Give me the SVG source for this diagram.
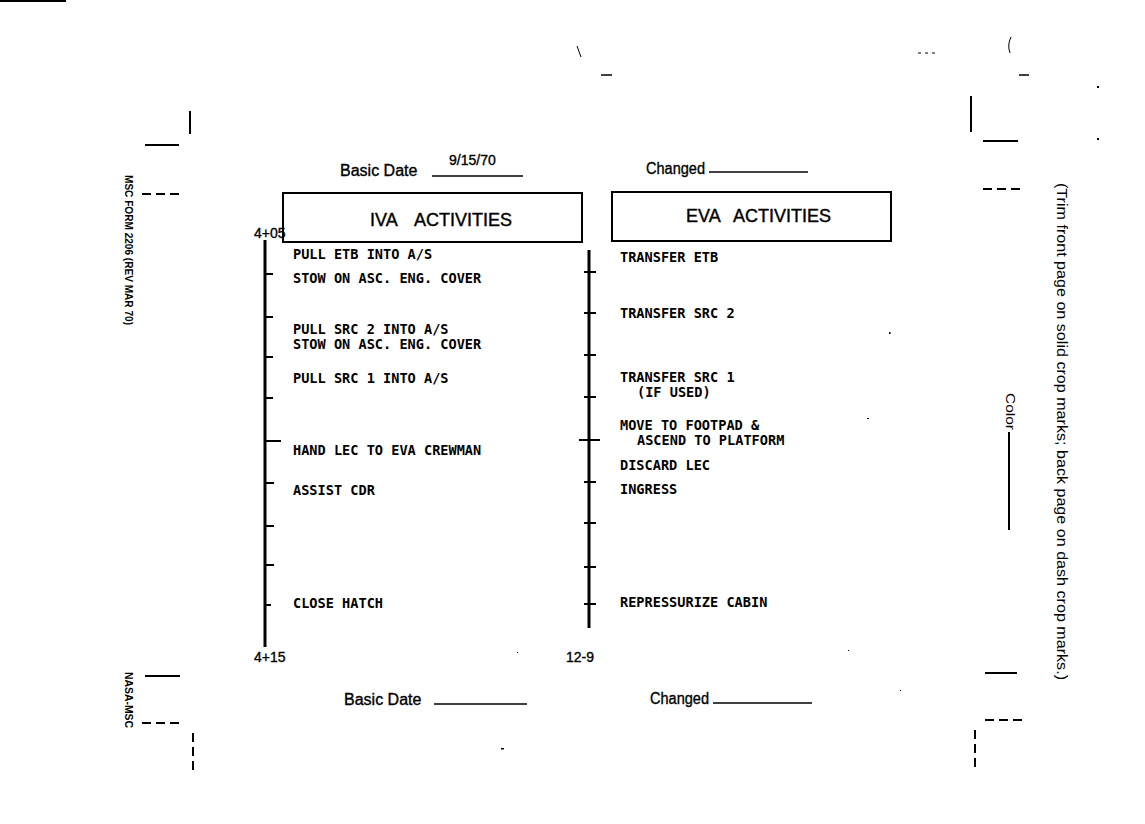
<svg xmlns="http://www.w3.org/2000/svg" width="1145" height="824" viewBox="0 0 1145 824">
<style>
.k{stroke:#000;fill:none}
.cm{stroke:#000;stroke-width:2;fill:none}
.dash{stroke:#000;stroke-width:2;stroke-dasharray:9 5;fill:none}
.box{fill:none;stroke:#000;stroke-width:2}
.tl{stroke:#000;stroke-width:3}
.tk{stroke:#000;stroke-width:2}
.act{font-family:"DejaVu Sans Mono","Liberation Mono",monospace;font-size:13.6px;font-weight:bold;fill:#000}
.hdr{font-family:"Liberation Sans",Arial,sans-serif;font-size:16px;fill:#000;stroke:#000;stroke-width:0.35}
.title{font-family:"Liberation Sans",Arial,sans-serif;font-size:18px;fill:#000;stroke:#000;stroke-width:0.4}
.tm{font-family:"Liberation Sans",Arial,sans-serif;font-size:14px;fill:#000;stroke:#000;stroke-width:0.35}
.side{font-family:"Liberation Sans",Arial,sans-serif;font-weight:bold;fill:#000}
.note{font-family:"Liberation Sans",Arial,sans-serif;fill:#000}
.dot{fill:#000}
</style>
<rect x="0" y="0" width="66" height="2" fill="#000"/>

<g id="crop-marks">
  <line class="cm" x1="190" y1="111" x2="190" y2="134" stroke-width="2.5"/>
  <line class="cm" x1="145" y1="145" x2="179" y2="145"/>
  <line class="dash" x1="142" y1="194" x2="180" y2="194"/>
  <line class="cm" x1="145" y1="676" x2="180" y2="676"/>
  <line class="dash" x1="142" y1="723" x2="180" y2="723"/>
  <line class="dash" x1="193" y1="733" x2="193" y2="772"/>
  <line class="cm" x1="971" y1="96" x2="971" y2="132" stroke-width="3"/>
  <line class="cm" x1="983" y1="141" x2="1018" y2="141"/>
  <line class="dash" x1="983" y1="189" x2="1020" y2="189"/>
  <line class="cm" x1="985" y1="673" x2="1017" y2="673"/>
  <line class="dash" x1="985" y1="720" x2="1025" y2="720"/>
  <line class="dash" x1="975" y1="730" x2="975" y2="772"/>
</g>

<g id="specks">
  <line class="k" x1="577" y1="46" x2="581" y2="57" stroke-width="1"/>
  <line class="k" x1="601" y1="75" x2="612" y2="75" stroke-width="1.5"/>
  <line class="k" x1="918" y1="53" x2="938" y2="53" stroke-width="1" stroke-dasharray="3 4"/>
  <path class="k" d="M1011,37 Q1007,45 1010,53" stroke-width="1"/>
  <line class="k" x1="1019" y1="75" x2="1029" y2="75" stroke-width="1.5"/>
  <rect class="dot" x="1097" y="86" width="2" height="2"/>
  <rect class="dot" x="1097" y="138" width="2" height="2"/>
  <rect class="dot" x="889" y="332" width="1.5" height="2"/>
  <rect class="dot" x="867" y="418" width="2" height="1"/>
  <rect class="dot" x="517" y="652" width="1" height="1"/>
  <rect class="dot" x="848" y="650" width="1" height="1"/>
  <rect class="dot" x="501" y="748" width="3" height="1.5"/>
  <rect class="dot" x="900" y="690" width="1" height="1"/>
</g>

<g id="side-notes">
  <text class="side" font-size="11" transform="translate(125,175) rotate(90)" textLength="150" lengthAdjust="spacingAndGlyphs">MSC FORM 2206 (REV MAR 70)</text>
  <text class="side" font-size="10" transform="translate(125,672) rotate(90)" textLength="56" lengthAdjust="spacingAndGlyphs">NASA-MSC</text>
  <text class="note" font-size="14" transform="translate(1057,183) rotate(90)" textLength="497" lengthAdjust="spacingAndGlyphs">(Trim front page on solid crop marks; back page on dash crop marks.)</text>
  <text class="note" font-size="13" transform="translate(1006,393) rotate(90)" textLength="37" lengthAdjust="spacingAndGlyphs">Color</text>
  <line class="cm" x1="1009" y1="432" x2="1009" y2="530"/>
</g>

<g id="header">
  <text class="hdr" x="340" y="176">Basic Date</text>
  <text class="tm" x="449" y="165" font-size="13">9/15/70</text>
  <line class="k" x1="432" y1="176" x2="523" y2="176" stroke-width="1.5"/>
  <text class="hdr" x="646" y="174" textLength="59" lengthAdjust="spacingAndGlyphs">Changed</text>
  <line class="k" x1="709" y1="172" x2="808" y2="172" stroke-width="1.5"/>
</g>

<g id="footer">
  <text class="hdr" x="344" y="705">Basic Date</text>
  <line class="k" x1="434" y1="704" x2="527" y2="704" stroke-width="1.5"/>
  <text class="hdr" x="650" y="704" textLength="59" lengthAdjust="spacingAndGlyphs">Changed</text>
  <line class="k" x1="713" y1="703" x2="812" y2="703" stroke-width="1.5"/>
</g>

<g id="iva-header">
  <rect class="box" x="283" y="193" width="299" height="49"/>
  <text class="title" y="226"><tspan x="370">IVA</tspan><tspan x="414">ACTIVITIES</tspan></text>
</g>
<g id="eva-header">
  <rect class="box" x="612" y="192" width="279" height="49"/>
  <text class="title" y="222"><tspan x="686">EVA</tspan><tspan x="733">ACTIVITIES</tspan></text>
</g>

<g id="time-labels">
  <text class="tm" x="254" y="238">4+05</text>
  <text class="tm" x="254" y="662">4+15</text>
  <text class="tm" x="566" y="662">12-9</text>
</g>

<g id="connectors">
  <line class="tl" x1="265" y1="240" x2="265" y2="647"/>
  <line class="tk" x1="265" y1="274" x2="273" y2="274"/>
  <line class="tk" x1="265" y1="317" x2="273" y2="317"/>
  <line class="tk" x1="265" y1="357" x2="273" y2="357"/>
  <line class="tk" x1="265" y1="398" x2="273" y2="398"/>
  <line class="tk" x1="265" y1="441" x2="281" y2="441"/>
  <line class="tk" x1="265" y1="483" x2="274" y2="483"/>
  <line class="tk" x1="265" y1="526" x2="274" y2="526"/>
  <line class="tk" x1="265" y1="565" x2="274" y2="565"/>
  <line class="tk" x1="265" y1="605" x2="271" y2="605"/>
  <line class="tl" x1="589" y1="250" x2="589" y2="628"/>
  <line class="tk" x1="584" y1="272" x2="596" y2="272"/>
  <line class="tk" x1="584" y1="313" x2="596" y2="313"/>
  <line class="tk" x1="584" y1="355" x2="596" y2="355"/>
  <line class="tk" x1="584" y1="397" x2="596" y2="397"/>
  <line class="tk" x1="579" y1="440" x2="600" y2="440"/>
  <line class="tk" x1="584" y1="482" x2="596" y2="482"/>
  <line class="tk" x1="584" y1="523" x2="596" y2="523"/>
  <line class="tk" x1="584" y1="567" x2="596" y2="567"/>
  <line class="tk" x1="584" y1="604" x2="596" y2="604"/>
</g>

<g id="iva-activities">
  <text class="act" x="293" y="259">PULL ETB INTO A/S</text>
  <text class="act" x="293" y="283">STOW ON ASC. ENG. COVER</text>
  <text class="act" x="293" y="334">PULL SRC 2 INTO A/S</text>
  <text class="act" x="293" y="349">STOW ON ASC. ENG. COVER</text>
  <text class="act" x="293" y="383">PULL SRC 1 INTO A/S</text>
  <text class="act" x="293" y="455">HAND LEC TO EVA CREWMAN</text>
  <text class="act" x="293" y="495">ASSIST CDR</text>
  <text class="act" x="293" y="608">CLOSE HATCH</text>
</g>

<g id="eva-activities">
  <text class="act" x="620" y="262">TRANSFER ETB</text>
  <text class="act" x="620" y="318">TRANSFER SRC 2</text>
  <text class="act" x="620" y="382">TRANSFER SRC 1</text>
  <text class="act" x="637" y="397">(IF USED)</text>
  <text class="act" x="620" y="430">MOVE TO FOOTPAD &amp;</text>
  <text class="act" x="637" y="445">ASCEND TO PLATFORM</text>
  <text class="act" x="620" y="470">DISCARD LEC</text>
  <text class="act" x="620" y="494">INGRESS</text>
  <text class="act" x="620" y="607">REPRESSURIZE CABIN</text>
</g>
</svg>
